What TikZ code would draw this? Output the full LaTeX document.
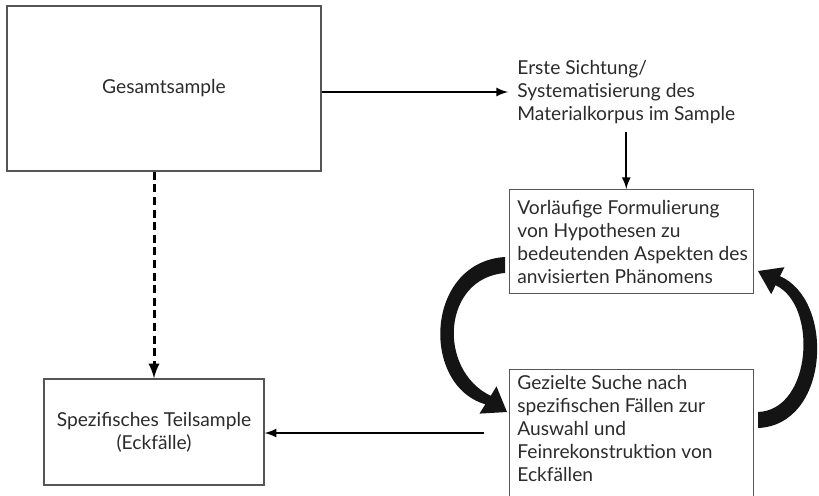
\documentclass[tikz,border=0pt]{standalone}
\usepackage{fontspec}
\setmainfont{Lato}
\usetikzlibrary{arrows,positioning}
\definecolor{ink}{HTML}{2B2B2B}
\definecolor{rim}{HTML}{555555}
\begin{document}
\begin{tikzpicture}[x=0.5pt, y=-0.5pt,
  every node/.style={font=\fontsize{9.6}{11.5}\selectfont, text=ink},
  box/.style={draw=rim, line width=0.7pt, inner sep=0pt},
  lbl/.style={inner sep=0pt, align=left},
  arr/.style={-latex, line width=1pt},
  dash arr/.style={-latex, line width=1.5pt, dash pattern=on 4pt off 2.3pt},
  bend arr/.style={fill=black!92, draw=none}]
\useasboundingbox (0,0) rectangle (819,495);
%
\node[box, minimum width=157pt, minimum height=82.5pt] (ges) at (164,88.5) {Gesamtsample};
\node[lbl, anchor=west] (erste) at (517,92) {Erste Sichtung/\\Systematisierung des\\Materialkorpus im Sample};
\node[box, anchor=north west, minimum width=122pt, minimum height=52pt] (vor) at (509,189) {};
\node[lbl, anchor=west] (vortext) at (517,242)
  {Vorläufige Formulierung\\von Hypothesen zu\\bedeutenden Aspekten des\\anvisierten Phänomens};
\node[box, anchor=north west, minimum width=122pt, minimum height=70pt] (gez) at (509,369) {};
\node[lbl, anchor=north west] (geztext) at (517,375)
  {Gezielte Suche nach\\spezifischen Fällen zur\\Auswahl und\\Feinrekonstruktion von\\Eckfällen};
\node[box, minimum width=110pt, minimum height=53pt, align=center] (spez) at (154,432)
  {Spezifisches Teilsample\\(Eckfälle)};
\coordinate (ret) at (484,433);
%
\draw[arr] (ges.east |- erste.west) -- ([xshift=-4.5pt]erste.west);
\draw[arr] ([yshift=-4pt]erste.south) -- (erste.south |- vor.north);
\draw[dash arr] (spez.north |- ges.south) -- (spez.north);
\draw[arr] (ret) -- (ret -| spez.east);
%
% curved block arrows
\fill[bend arr] (505,257) .. controls (425,262) and (420,385) .. (485.3,404.3)
  -- (479.5,413.6) -- (507,412) -- (496.5,386.4) -- (490.7,395.8)
  .. controls (437,370) and (442,278) .. (505,273) -- cycle;
\fill[bend arr] (758,428) .. controls (830,425) and (835,300) .. (780,276.2)
  -- (784.4,267.2) -- (758,271) -- (771.2,294.2) -- (775.6,285.2)
  .. controls (818,305) and (812,410) .. (758,412) -- cycle;
\end{tikzpicture}
\end{document}
